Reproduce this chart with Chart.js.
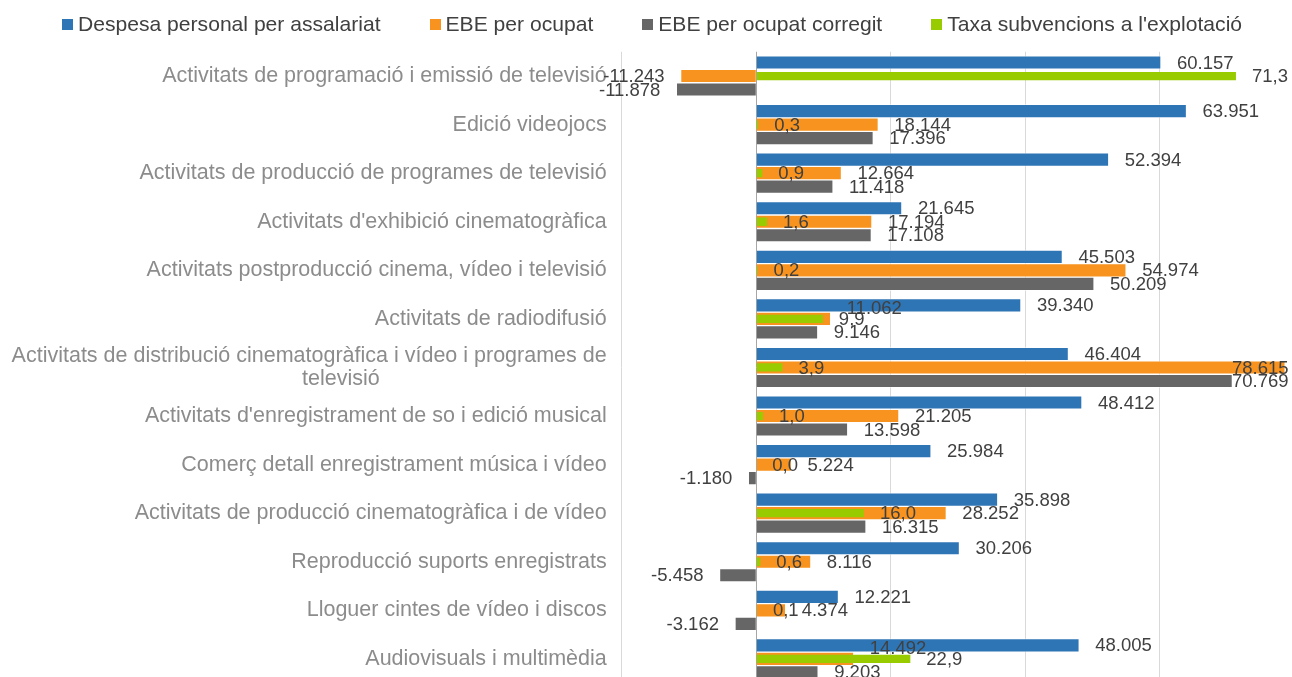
<!DOCTYPE html>
<html>
<head>
<meta charset="utf-8">
<script src="https://cdn.jsdelivr.net/npm/chart.js@4.4.1/dist/chart.umd.min.js"></script>
<style>
  html, body { margin: 0; padding: 0; background: #fff; overflow: hidden; }
  #wrap { position: relative; width: 1300px; height: 710px; }
  #legend {
    position: absolute; left: 62px; top: 12px; display: flex;
    font: 21.1px "Liberation Sans", Arial, sans-serif; line-height: 24px;
    color: #404040; white-space: nowrap;
  }
  .item { display: flex; align-items: center; margin-right: 49px; }
  .box { width: 11px; height: 11px; margin-right: 5px; }
</style>
</head>
<body>
<div id="wrap">
  <canvas id="chart" width="1300" height="710"></canvas>
  <div id="legend"></div>
</div>
<script>
const categories = [
  "Activitats de programació i emissió de televisió",
  "Edició videojocs",
  "Activitats de producció de programes de televisió",
  "Activitats d'exhibició cinematogràfica",
  "Activitats postproducció cinema, vídeo i televisió",
  "Activitats de radiodifusió",
  ["Activitats de distribució cinematogràfica i vídeo i programes de", "televisió" + "\u00a0".repeat(38)],
  "Activitats d'enregistrament de so i edició musical",
  "Comerç detall enregistrament música i vídeo",
  "Activitats de producció cinematogràfica i de vídeo",
  "Reproducció suports enregistrats",
  "Lloguer cintes de vídeo i discos",
  "Audiovisuals i multimèdia"
];

// milers d'euros
const despesaPersonal = [60.157, 63.951, 52.394, 21.645, 45.503, 39.340, 46.404, 48.412, 25.984, 35.898, 30.206, 12.221, 48.005];
const ebeOcupat = [-11.243, 18.144, 12.664, 17.194, 54.974, 11.062, 78.615, 21.205, 5.224, 28.252, 8.116, 4.374, 14.492];
const ebeCorregit = [-11.878, 17.396, 11.418, 17.108, 50.209, 9.146, 70.769, 13.598, -1.180, 16.315, -5.458, -3.162, 9.203];
// percentatge
const taxaSubvencions = [71.3, 0.3, 0.9, 1.6, 0.2, 9.9, 3.9, 1.0, 0.0, 16.0, 0.6, 0.1, 22.9];

const seriesNames = ["Despesa personal per assalariat", "EBE per ocupat", "EBE per ocupat corregit", "Taxa subvencions a l'explotació"];
const seriesColors = ["#2e75b6", "#f7931e", "#666666", "#99cc00"];
const xMin = -20;
const xMax = 80;
const xStep = 20;

const fontFamily = '"Liberation Sans", Arial, sans-serif';

function formatEur(v) {
  return v.toFixed(3);
}

function formatPct(v) {
  return v.toFixed(1).replace(".", ",");
}

// etiquetes de valor al final de cada barra
const valueLabels = {
  id: "valueLabels",
  afterDatasetsDraw(chart) {
    const ctx = chart.ctx;
    const limit = chart.chartArea.right - 6;
    const taxaBars = chart.getDatasetMeta(3).data;
    ctx.save();
    ctx.font = "18.5px " + fontFamily;
    ctx.fillStyle = "#404040";
    ctx.textBaseline = "middle";
    ctx.textAlign = "left";
    chart.data.datasets.forEach((ds, i) => {
      chart.getDatasetMeta(i).data.forEach((bar, j) => {
        const value = ds.data[j];
        const text = i === 3 ? formatPct(value) : formatEur(value);
        const w = ctx.measureText(text).width;
        let x = value < 0 ? bar.x - 16 - w : bar.x + 16;
        if (x + w > limit) x = limit - w;
        let y = bar.y + 1;
        if (i === 1 && value > 0) {
          // si xoca amb l'etiqueta verda, la pugem una mica
          const g = taxaBars[j];
          const gEnd = g.x + 16 + ctx.measureText(formatPct(taxaSubvencions[j])).width;
          if (x < gEnd) y -= 11;
        }
        ctx.fillText(text, x, y);
      });
    });
    ctx.restore();
  }
};

function makeLegend() {
  const legend = document.getElementById("legend");
  seriesNames.forEach((name, i) => {
    const item = document.createElement("div");
    item.className = "item";
    const box = document.createElement("span");
    box.className = "box";
    box.style.background = seriesColors[i];
    const label = document.createElement("span");
    label.textContent = name;
    item.appendChild(box);
    item.appendChild(label);
    legend.appendChild(item);
  });
}

function makeChart() {
  const canvas = document.getElementById("chart");
  new Chart(canvas, {
    type: "bar",
    data: {
      labels: categories,
      datasets: [
        {
          label: seriesNames[0],
          data: despesaPersonal,
          backgroundColor: seriesColors[0],
          borderColor: "rgba(255, 255, 255, 0.5)",
          borderWidth: 1,
          barThickness: 13.5,
          order: 1
        },
        {
          label: seriesNames[1],
          data: ebeOcupat,
          backgroundColor: seriesColors[1],
          borderColor: "rgba(255, 255, 255, 0.4)",
          borderWidth: 1,
          barThickness: 13.5,
          order: 1
        },
        {
          label: seriesNames[2],
          data: ebeCorregit,
          backgroundColor: seriesColors[2],
          borderColor: "rgba(255, 255, 255, 0.5)",
          borderWidth: 1,
          barThickness: 13.5,
          order: 1
        },
        {
          label: seriesNames[3],
          data: taxaSubvencions,
          backgroundColor: seriesColors[3],
          borderWidth: 0,
          grouped: false,
          categoryPercentage: 1,
          barPercentage: 0.17,
          order: 0
        }
      ]
    },
    options: {
      indexAxis: "y",
      responsive: false,
      animation: false,
      layout: {
        padding: { top: 51.75, bottom: 8, left: 0, right: 5.5 }
      },
      scales: {
        x: {
          min: xMin,
          max: xMax,
          ticks: { display: false, stepSize: xStep },
          grid: {
            drawTicks: false,
            color: (c) => (c.tick && c.tick.value === 0 ? "#a6a6a6" : "#d9d9d9"),
            lineWidth: 1
          },
          border: { display: false },
          afterFit: (scale) => { scale.height = 0; }
        },
        y: {
          grid: { display: false, drawTicks: false },
          border: { display: false },
          ticks: {
            autoSkip: false,
            padding: 15,
            color: "#8c8c8c",
            font: { family: fontFamily, size: 21.5, lineHeight: 1.1 }
          },
          afterFit: (scale) => { scale.width = 621.7; }
        }
      },
      plugins: {
        legend: { display: false },
        tooltip: { enabled: false }
      }
    },
    plugins: [valueLabels]
  });
}

makeLegend();
makeChart();
</script>
</body>
</html>
